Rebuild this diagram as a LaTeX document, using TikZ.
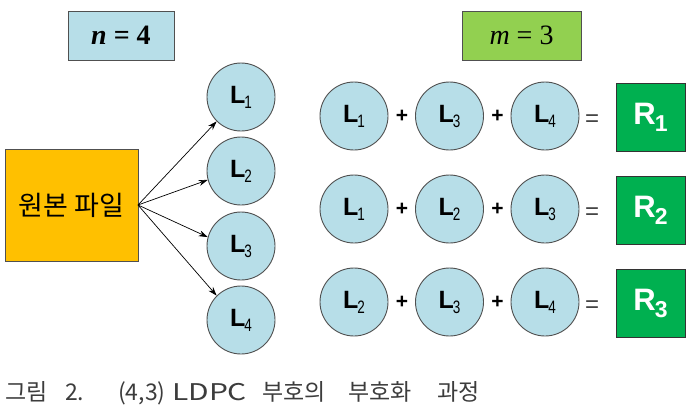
\documentclass[tikz,border=0pt]{standalone}
\usepackage{fontspec}
\setmainfont{Liberation Sans}
\newfontfamily\kr{Noto Sans CJK KR}
\newfontfamily\tms{Liberation Serif}
\usetikzlibrary{arrows.meta}
\definecolor{cblue}{RGB}{183,222,232}
\definecolor{cborder}{RGB}{80,80,80}
\definecolor{corange}{RGB}{255,192,0}
\definecolor{cmgreen}{RGB}{146,208,80}
\definecolor{cgreen}{RGB}{0,176,80}
\definecolor{ccap}{RGB}{60,60,60}
\tikzset{
  lnode/.style={circle,draw=cborder,fill=cblue,line width=0.9pt,minimum size=68pt,inner sep=0pt},
  rbox/.style={rectangle,draw=black!80,fill=cgreen,line width=1pt,minimum width=69pt,minimum height=68pt,inner sep=0pt,text=white,font=\bfseries\fontsize{31}{31}\selectfont},
  varbox/.style={rectangle,draw=cborder,line width=1pt,minimum height=49pt,inner sep=0pt,font=\tms\fontsize{28}{28}\selectfont},
  arr/.style={-{Stealth[length=9pt,width=6pt]},line width=0.7pt},
  op/.style={inner sep=0pt,font=\bfseries\fontsize{21}{21}\selectfont},
  eq/.style={inner sep=0pt,text=black!75,font=\fontsize{24}{24}\selectfont}
}
\newcommand{\Lsub}[1]{{\fontsize{25}{25}\selectfont\bfseries L}\kern-1pt\raisebox{-5pt}{\scalebox{0.75}[1]{\fontsize{18}{18}\selectfont #1}}}
\newcommand{\Rsub}[1]{R\kern-1pt\raisebox{-7pt}{\fontsize{23}{23}\selectfont #1}}
\begin{document}
\begin{tikzpicture}[x=1pt,y=-1pt]
\useasboundingbox (0,0) rectangle (690,418);
% parameter boxes
\node[varbox,fill=cblue,minimum width=106pt] (nbox) at (121,35.5) {\textbf{\textit{n}} \textbf{= 4}};
\node[varbox,fill=cmgreen,minimum width=119pt] (mbox) at (521.5,35.5) {\textit{m} = 3};
% source file
\node[rectangle,draw=cborder,fill=corange,line width=1pt,minimum width=133pt,minimum height=112pt,inner sep=0pt,font=\kr\fontsize{27}{27}\selectfont] (src) at (71.5,205) {원본 파일};
% left L nodes
\node[lnode] (a1) at (241,97) {\Lsub{1}};
\node[lnode] (a2) at (241,171) {\Lsub{2}};
\node[lnode] (a3) at (241,246) {\Lsub{3}};
\node[lnode] (a4) at (241,320) {\Lsub{4}};
\coordinate (s) at (138,205);
\draw[arr] (s) -- (a1.225);
\draw[arr] (s) -- (a2.195);
\draw[arr] (s) -- (a3.165);
\draw[arr] (s) -- (a4.135);
% rows
\foreach \r/\y/\p/\q/\t in {1/116/1/3/4, 2/209/1/2/3, 3/302/2/3/4}{
  \node[lnode] (r\r a) at (354,\y) {\Lsub{\p}};
  \node[lnode] (r\r b) at (449.5,\y) {\Lsub{\q}};
  \node[lnode] (r\r c) at (545,\y) {\Lsub{\t}};
  \node[op] (r\r p1) at (402,\y) {+};
  \node[op] (r\r p2) at (497.5,\y) {+};
  \node[eq] (r\r e) at (592,\y+5) {=};
  \node[rbox] (R\r) at (650.5,\y+1) {\Rsub{\r}};
}
% caption
\node[anchor=west,inner sep=0pt,text=ccap,font=\kr\fontsize{23}{23}\selectfont] (cap) at (5,393) {\makebox[60pt][l]{그림}\makebox[53pt][l]{2.}\makebox[54pt][l]{(4,3)}\makebox[90pt][l]{\scalebox{1.3}[1]{LDPC}}\makebox[86pt][l]{부호의}\makebox[89pt][l]{부호화}과정};
\end{tikzpicture}
\end{document}
